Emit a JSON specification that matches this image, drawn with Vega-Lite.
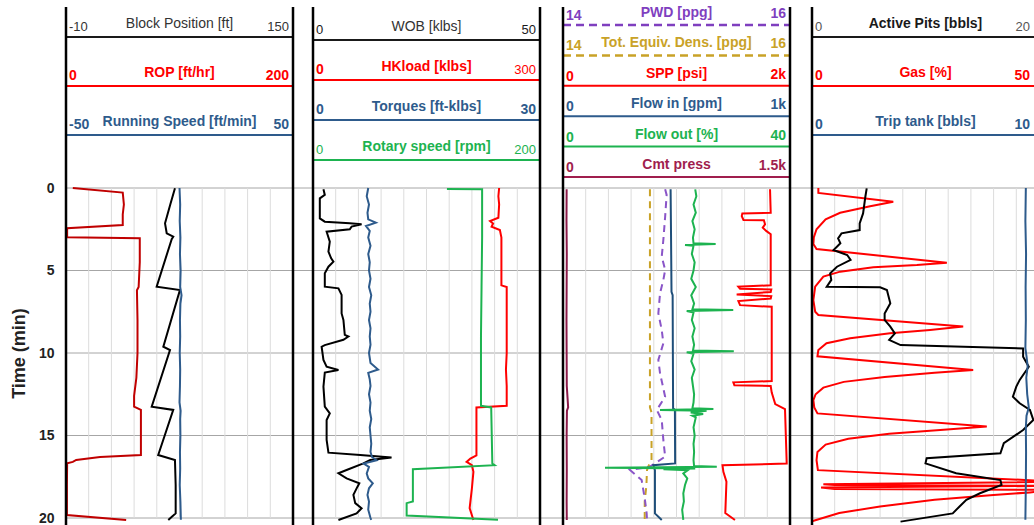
{
"$schema": "https://vega.github.io/schema/vega-lite/v6.json",
"width": 968, "height": 525,
"autosize": {"type": "none"},
"padding": {"left": 66, "top": 0, "right": 0, "bottom": 0},
"background": "white",
"config": {"view": {"stroke": null}, "font": "Liberation Sans"},
"datasets": {
"ticks": [{"t":0},{"t":5},{"t":10},{"t":15},{"t":20}],
"grid": [{"g":1},{"g":2},{"g":3},{"g":4},{"g":5},{"g":6},{"g":7},{"g":8},{"g":9}],
"edges": [{"e":0},{"e":1}],
"hdr": [
{"track":1,"ord":1,"name":"Block Position [ft]","lo":"-10","hi":"150"},
{"track":1,"ord":2,"name":"ROP [ft/hr]","lo":"0","hi":"200"},
{"track":1,"ord":3,"name":"Running Speed [ft/min]","lo":"-50","hi":"50"},
{"track":2,"ord":1,"name":"WOB [klbs]","lo":"0","hi":"50"},
{"track":2,"ord":2,"name":"HKload [klbs]","lo":"0","hi":"300"},
{"track":2,"ord":3,"name":"Torques [ft-klbs]","lo":"0","hi":"30"},
{"track":2,"ord":4,"name":"Rotary speed [rpm]","lo":"0","hi":"200"},
{"track":3,"ord":1,"name":"PWD [ppg]","lo":"14","hi":"16"},
{"track":3,"ord":2,"name":"Tot. Equiv. Dens. [ppg]","lo":"14","hi":"16"},
{"track":3,"ord":3,"name":"SPP [psi]","lo":"0","hi":"2k"},
{"track":3,"ord":4,"name":"Flow in [gpm]","lo":"0","hi":"1k"},
{"track":3,"ord":5,"name":"Flow out [%]","lo":"0","hi":"40"},
{"track":3,"ord":6,"name":"Cmt press","lo":"0","hi":"1.5k"},
{"track":4,"ord":1,"name":"Active Pits [bbls]","lo":"0","hi":"20"},
{"track":4,"ord":2,"name":"Gas [%]","lo":"0","hi":"50"},
{"track":4,"ord":3,"name":"Trip tank [bbls]","lo":"0","hi":"10"}
],
"rop": [{"t":0,"v":6},{"t":0.28,"v":50},{"t":1.0,"v":51},{"t":1.6,"v":50},{"t":2.24,"v":50},{"t":2.44,"v":1},{"t":2.99,"v":1},{"t":3.05,"v":65},{"t":4.5,"v":65},{"t":6.0,"v":64},{"t":6.2,"v":62.5},{"t":8,"v":63},{"t":10,"v":63},{"t":11.5,"v":62},{"t":12.6,"v":60},{"t":13.25,"v":60},{"t":13.45,"v":66},{"t":15,"v":66},{"t":16.18,"v":66},{"t":16.3,"v":30},{"t":16.48,"v":9},{"t":16.6,"v":6},{"t":16.69,"v":1},{"t":18,"v":0.8},{"t":19.82,"v":0.8},{"t":20.12,"v":53}],
"blk": [{"t":0.02,"v":66.8},{"t":1.0,"v":63.5},{"t":2.14,"v":59.8},{"t":2.5,"v":60.5},{"t":2.75,"v":61.0},{"t":2.95,"v":65.6},{"t":3.1,"v":64.5},{"t":5.98,"v":53.9},{"t":6.18,"v":70.3},{"t":9.62,"v":58.6},{"t":9.82,"v":63.3},{"t":13.25,"v":50.4},{"t":13.45,"v":65.6},{"t":16.18,"v":55.0},{"t":16.48,"v":66.8},{"t":18,"v":67.3},{"t":19.72,"v":67.3},{"t":19.9,"v":65},{"t":20.12,"v":62.1}],
"rsp": [{"t":0,"v":0.0},{"t":1,"v":0.3},{"t":2,"v":0.1},{"t":3,"v":0.4},{"t":4,"v":0.2},{"t":5,"v":0.5},{"t":6,"v":0.3},{"t":6.5,"v":0.9},{"t":7,"v":0.4},{"t":8,"v":0.2},{"t":9,"v":0.3},{"t":10,"v":0.1},{"t":11,"v":0.3},{"t":12,"v":0.2},{"t":13,"v":0.0},{"t":13.5,"v":0.5},{"t":14,"v":0.3},{"t":15,"v":0.4},{"t":16,"v":0.2},{"t":17,"v":0.3},{"t":18,"v":0.1},{"t":19,"v":0.4},{"t":20.1,"v":0.6}],
"wob": [{"t":0.08,"v":2.3},{"t":0.42,"v":2.6},{"t":0.63,"v":1.5},{"t":1.84,"v":1.5},{"t":2.04,"v":2.6},{"t":2.14,"v":8.1},{"t":2.2,"v":10.7},{"t":2.34,"v":8.5},{"t":2.5,"v":8.1},{"t":2.65,"v":3.0},{"t":3.25,"v":3.7},{"t":3.86,"v":3.4},{"t":4.26,"v":4.0},{"t":4.46,"v":4.5},{"t":4.77,"v":3.4},{"t":5.17,"v":2.6},{"t":5.98,"v":2.6},{"t":6.08,"v":5.6},{"t":6.48,"v":6.3},{"t":7.6,"v":6.3},{"t":8.0,"v":6.7},{"t":8.9,"v":7.0},{"t":9.0,"v":7.8},{"t":9.2,"v":6.7},{"t":9.52,"v":2.6},{"t":9.62,"v":1.9},{"t":10.42,"v":2.3},{"t":10.83,"v":3.0},{"t":11.03,"v":5.6},{"t":11.19,"v":2.6},{"t":12.04,"v":2.3},{"t":13.25,"v":2.6},{"t":13.66,"v":3.7},{"t":14.06,"v":3.0},{"t":15.27,"v":3.0},{"t":16.04,"v":3.4},{"t":16.18,"v":10.4},{"t":16.34,"v":17.3},{"t":16.48,"v":12.6},{"t":16.69,"v":11.1},{"t":17.09,"v":7.4},{"t":17.29,"v":5.6},{"t":17.6,"v":7.4},{"t":17.9,"v":10.2},{"t":18.1,"v":9.8},{"t":18.6,"v":8.9},{"t":19.1,"v":9.3},{"t":19.41,"v":10.7},{"t":19.72,"v":9.6},{"t":20.12,"v":5.6}],
"trq": [{"t":0,"v":7.3},{"t":0.5,"v":7.1},{"t":1,"v":7.4},{"t":1.5,"v":7.2},{"t":1.9,"v":7.3},{"t":2.1,"v":8.3},{"t":2.3,"v":7.0},{"t":2.6,"v":7.5},{"t":3,"v":7.3},{"t":3.5,"v":7.6},{"t":4,"v":7.3},{"t":4.5,"v":7.5},{"t":5,"v":7.4},{"t":5.5,"v":7.6},{"t":6,"v":7.4},{"t":6.5,"v":7.7},{"t":7,"v":7.5},{"t":7.5,"v":7.6},{"t":8,"v":7.4},{"t":8.5,"v":7.6},{"t":9,"v":7.5},{"t":9.5,"v":7.6},{"t":10,"v":7.4},{"t":10.6,"v":7.6},{"t":11.0,"v":8.6},{"t":11.2,"v":7.3},{"t":11.6,"v":7.5},{"t":12,"v":7.6},{"t":12.5,"v":7.4},{"t":13,"v":7.6},{"t":13.5,"v":7.5},{"t":14,"v":7.7},{"t":14.5,"v":7.5},{"t":15,"v":7.6},{"t":15.5,"v":7.7},{"t":16,"v":7.6},{"t":16.3,"v":7.8},{"t":16.5,"v":8.4},{"t":16.7,"v":6.7},{"t":16.9,"v":7.4},{"t":17.3,"v":7.1},{"t":17.6,"v":7.3},{"t":17.9,"v":7.9},{"t":18.2,"v":7.4},{"t":18.6,"v":7.2},{"t":19,"v":7.4},{"t":19.5,"v":7.3},{"t":20,"v":7.6},{"t":20.12,"v":7.7}],
"hkl": [{"t":0,"v":246},{"t":0.5,"v":245},{"t":1.0,"v":246},{"t":1.8,"v":245},{"t":2.0,"v":234},{"t":2.15,"v":238},{"t":2.35,"v":236},{"t":2.55,"v":247},{"t":3.0,"v":249},{"t":4,"v":249},{"t":5,"v":249},{"t":5.9,"v":249},{"t":6.0,"v":256},{"t":8,"v":256},{"t":10,"v":256},{"t":11,"v":255},{"t":12,"v":256},{"t":13.2,"v":256},{"t":13.3,"v":216},{"t":14,"v":216},{"t":15,"v":216},{"t":16.2,"v":216},{"t":16.4,"v":208},{"t":16.6,"v":203},{"t":16.8,"v":210},{"t":17.2,"v":212},{"t":18.2,"v":210},{"t":19.4,"v":207},{"t":20.12,"v":212}],
"rpm": [{"t":0.06,"v":118},{"t":0.08,"v":149},{"t":3,"v":149},{"t":6,"v":148.5},{"t":9,"v":148},{"t":13.2,"v":148},{"t":13.3,"v":157},{"t":16.7,"v":158},{"t":16.8,"v":160},{"t":17.05,"v":88},{"t":19.0,"v":88},{"t":19.1,"v":82.5},{"t":19.85,"v":82.5},{"t":20.1,"v":163}],
"pwd": [{"t":0.08,"v":14.9},{"t":0.42,"v":14.913},{"t":1.74,"v":14.9},{"t":3.15,"v":14.884},{"t":4.16,"v":14.87},{"t":4.97,"v":14.9},{"t":5.57,"v":14.884},{"t":6.38,"v":14.855},{"t":7.6,"v":14.84},{"t":8.6,"v":14.87},{"t":9.41,"v":14.884},{"t":10.42,"v":14.84},{"t":11.23,"v":14.855},{"t":12.65,"v":14.9},{"t":13.45,"v":14.826},{"t":14.06,"v":14.87},{"t":15.27,"v":14.884},{"t":16.28,"v":14.9},{"t":16.89,"v":14.767},{"t":17.09,"v":14.59},{"t":17.7,"v":14.693},{"t":18.9,"v":14.722},{"t":19.72,"v":14.737},{"t":20.1,"v":14.74}],
"ted": [{"t":0.08,"v":14.766},{"t":5,"v":14.766},{"t":10,"v":14.766},{"t":13.3,"v":14.766},{"t":13.6,"v":14.78},{"t":16.5,"v":14.78},{"t":16.9,"v":14.75},{"t":17.1,"v":14.74},{"t":18,"v":14.735},{"t":19,"v":14.72},{"t":20.1,"v":14.72}],
"spp": [{"t":0.08,"v":1824},{"t":1.5,"v":1830},{"t":1.54,"v":1580},{"t":1.7,"v":1575},{"t":1.94,"v":1590},{"t":1.96,"v":1770},{"t":2.2,"v":1780},{"t":2.4,"v":1760},{"t":2.6,"v":1790},{"t":2.8,"v":1830},{"t":5.9,"v":1830},{"t":5.98,"v":1545},{"t":6.1,"v":1560},{"t":6.15,"v":1835},{"t":6.3,"v":1830},{"t":6.45,"v":1530},{"t":6.55,"v":1835},{"t":6.7,"v":1830},{"t":6.85,"v":1545},{"t":7.1,"v":1560},{"t":7.2,"v":1839},{"t":11.7,"v":1839},{"t":11.78,"v":1501},{"t":11.95,"v":1510},{"t":12.0,"v":1830},{"t":12.4,"v":1839},{"t":13.1,"v":1870},{"t":13.4,"v":1956},{"t":16.7,"v":1971},{"t":16.8,"v":1405},{"t":17.2,"v":1413},{"t":17.8,"v":1440},{"t":19.7,"v":1430},{"t":20.12,"v":1515}],
"fin": [{"t":0.08,"v":474},{"t":3,"v":476},{"t":6.3,"v":478},{"t":6.5,"v":483},{"t":10,"v":484},{"t":13.35,"v":485},{"t":13.45,"v":493},{"t":16.69,"v":494},{"t":16.8,"v":398},{"t":17.1,"v":405},{"t":19.72,"v":405},{"t":20.12,"v":435}],
"fout": [{"t":0.08,"v":23.3},{"t":0.5,"v":23.5},{"t":1,"v":23.0},{"t":1.5,"v":23.4},{"t":2,"v":22.8},{"t":2.5,"v":23.2},{"t":3.0,"v":22.9},{"t":3.35,"v":23.0},{"t":3.4,"v":26.9},{"t":3.45,"v":21.5},{"t":3.5,"v":23.0},{"t":4,"v":22.7},{"t":4.5,"v":23.2},{"t":5,"v":23.0},{"t":5.5,"v":22.6},{"t":6,"v":23.4},{"t":6.5,"v":22.6},{"t":7,"v":23.1},{"t":7.35,"v":22.8},{"t":7.4,"v":30.0},{"t":7.45,"v":21.8},{"t":7.55,"v":23.0},{"t":8,"v":22.7},{"t":8.5,"v":23.2},{"t":9,"v":22.8},{"t":9.5,"v":23.1},{"t":9.85,"v":22.9},{"t":9.9,"v":30.1},{"t":9.95,"v":21.8},{"t":10.05,"v":23.0},{"t":10.5,"v":22.6},{"t":11,"v":23.2},{"t":11.5,"v":22.7},{"t":12,"v":22.9},{"t":12.5,"v":23.1},{"t":13,"v":23.0},{"t":13.35,"v":22.8},{"t":13.4,"v":26.5},{"t":13.45,"v":17.1},{"t":13.5,"v":25.3},{"t":13.6,"v":22.5},{"t":13.7,"v":24.7},{"t":13.8,"v":22.8},{"t":13.9,"v":23.4},{"t":14.5,"v":23.0},{"t":15,"v":23.2},{"t":15.5,"v":23.0},{"t":16,"v":23.1},{"t":16.5,"v":23.0},{"t":16.85,"v":23.1},{"t":16.9,"v":27.1},{"t":16.95,"v":7.4},{"t":17.0,"v":23.3},{"t":17.05,"v":17.7},{"t":17.1,"v":22.0},{"t":17.3,"v":21.2},{"t":17.6,"v":21.9},{"t":18,"v":21.5},{"t":18.5,"v":21.2},{"t":19,"v":21.3},{"t":19.5,"v":21.0},{"t":20.12,"v":21.2}],
"cmt": [{"t":0.08,"v":24},{"t":2,"v":23},{"t":4,"v":25},{"t":6,"v":24},{"t":8,"v":23},{"t":10,"v":24},{"t":12,"v":25},{"t":13.3,"v":34},{"t":13.5,"v":26},{"t":15,"v":24},{"t":17,"v":25},{"t":19,"v":24},{"t":20.12,"v":25}],
"pits": [{"t":0.02,"v":4.82},{"t":0.53,"v":4.7},{"t":1.54,"v":4.5},{"t":2.14,"v":4.2},{"t":2.55,"v":4.2},{"t":2.75,"v":2.6},{"t":3.05,"v":2.3},{"t":3.35,"v":2.5},{"t":3.76,"v":1.9},{"t":4.06,"v":3.1},{"t":4.36,"v":3.4},{"t":4.77,"v":2.2},{"t":5.17,"v":1.6},{"t":5.57,"v":1.7},{"t":5.98,"v":1.3},{"t":6.02,"v":6.0},{"t":6.18,"v":6.6},{"t":6.99,"v":6.9},{"t":7.6,"v":6.4},{"t":8.0,"v":6.4},{"t":8.4,"v":6.9},{"t":8.81,"v":7.3},{"t":9.21,"v":6.8},{"t":9.52,"v":7.8},{"t":9.72,"v":18.6},{"t":10.22,"v":18.6},{"t":10.83,"v":19.1},{"t":11.63,"v":18.3},{"t":12.04,"v":18.0},{"t":12.65,"v":17.7},{"t":13.05,"v":18.3},{"t":13.45,"v":19.2},{"t":14.06,"v":19.5},{"t":14.67,"v":18.6},{"t":15.47,"v":16.9},{"t":16.08,"v":16.6},{"t":16.38,"v":10.1},{"t":16.69,"v":10.0},{"t":17.29,"v":12.7},{"t":17.7,"v":16.6},{"t":18.0,"v":16.7},{"t":18.5,"v":14.8},{"t":18.9,"v":13.6},{"t":19.3,"v":13.0},{"t":19.72,"v":12.4},{"t":20.22,"v":7.8}],
"gas": [{"t":0,"v":1.4},{"t":0.3,"v":1.4},{"t":0.83,"v":17.9},{"t":1.1,"v":12.8},{"t":1.5,"v":6.2},{"t":1.9,"v":3.0},{"t":2.5,"v":1.0},{"t":3.0,"v":0.4},{"t":3.4,"v":0.3},{"t":3.7,"v":1.0},{"t":4.53,"v":29.7},{"t":4.67,"v":23.1},{"t":4.8,"v":13.5},{"t":5.07,"v":6.2},{"t":5.37,"v":2.5},{"t":5.98,"v":0.7},{"t":6.8,"v":0.3},{"t":7.5,"v":0.7},{"t":7.7,"v":1.4},{"t":8.4,"v":33.3},{"t":8.6,"v":26},{"t":8.81,"v":17.2},{"t":9.11,"v":8.4},{"t":9.41,"v":3.2},{"t":9.82,"v":1.4},{"t":10.2,"v":1.2},{"t":11.03,"v":35.5},{"t":11.2,"v":27},{"t":11.45,"v":16},{"t":11.75,"v":7},{"t":12.1,"v":2.5},{"t":12.5,"v":0.8},{"t":12.85,"v":0.3},{"t":13.3,"v":0.5},{"t":13.66,"v":1.2},{"t":14.46,"v":38.5},{"t":14.65,"v":29},{"t":14.9,"v":17},{"t":15.2,"v":8},{"t":15.55,"v":3},{"t":16.0,"v":1.2},{"t":16.5,"v":1.0},{"t":17.1,"v":1.3},{"t":17.8,"v":55},{"t":17.95,"v":2.5},{"t":18.0,"v":5},{"t":18.05,"v":55},{"t":18.15,"v":2},{"t":18.25,"v":5},{"t":18.3,"v":55},{"t":18.45,"v":48},{"t":18.6,"v":40},{"t":18.9,"v":27},{"t":19.3,"v":15},{"t":19.7,"v":6},{"t":20.2,"v":0}],
"trip": [{"t":0,"v":9.42},{"t":2,"v":9.4},{"t":4,"v":9.43},{"t":6,"v":9.41},{"t":8,"v":9.42},{"t":9.7,"v":9.4},{"t":10.2,"v":9.45},{"t":10.8,"v":9.5},{"t":11.5,"v":9.44},{"t":12.5,"v":9.48},{"t":13.3,"v":9.55},{"t":13.8,"v":9.45},{"t":14.5,"v":9.42},{"t":16,"v":9.43},{"t":18,"v":9.42},{"t":20.1,"v":9.4}]
},
"resolve": {"scale": {"x": "independent", "y": "independent"}, "axis": {"x": "independent", "y": "independent"}},
"layer": [
{"data":{"name":"ticks"},"mark":{"type":"rule","color":"#a6a6a6","strokeWidth":1},"encoding":{"y":{"field":"t","type":"quantitative","scale":{"domain":[0,20],"range":[188,518],"nice":false,"zero":false},"axis":null}}},
{"data":{"name":"grid"},"mark":{"type":"rule","color":"#dcdcdc","strokeWidth":1},"encoding":{"x":{"field":"g","type":"quantitative","scale":{"domain":[0,10],"range":[0,227],"nice":false,"zero":false},"axis":null},"y":{"datum":0,"type":"quantitative","scale":{"domain":[0,20],"range":[188,518],"nice":false,"zero":false},"axis":null},"y2":{"datum":20}}},
{"data":{"name":"grid"},"mark":{"type":"rule","color":"#dcdcdc","strokeWidth":1},"encoding":{"x":{"field":"g","type":"quantitative","scale":{"domain":[0,10],"range":[247,474],"nice":false,"zero":false},"axis":null},"y":{"datum":0,"type":"quantitative","scale":{"domain":[0,20],"range":[188,518],"nice":false,"zero":false},"axis":null},"y2":{"datum":20}}},
{"data":{"name":"grid"},"mark":{"type":"rule","color":"#dcdcdc","strokeWidth":1},"encoding":{"x":{"field":"g","type":"quantitative","scale":{"domain":[0,10],"range":[497,724],"nice":false,"zero":false},"axis":null},"y":{"datum":0,"type":"quantitative","scale":{"domain":[0,20],"range":[188,518],"nice":false,"zero":false},"axis":null},"y2":{"datum":20}}},
{"data":{"name":"grid"},"mark":{"type":"rule","color":"#dcdcdc","strokeWidth":1},"encoding":{"x":{"field":"g","type":"quantitative","scale":{"domain":[0,10],"range":[746,973],"nice":false,"zero":false},"axis":null},"y":{"datum":0,"type":"quantitative","scale":{"domain":[0,20],"range":[188,518],"nice":false,"zero":false},"axis":null},"y2":{"datum":20}}},

{"data":{"name":"rop"},"mark":{"type":"line","color":"#c00000","strokeWidth":2},"encoding":{"x":{"field":"v","type":"quantitative","scale":{"domain":[0,200],"range":[0,227],"nice":false,"zero":false},"axis":null},"y":{"field":"t","type":"quantitative","scale":{"domain":[0,20],"range":[188,518],"nice":false,"zero":false},"axis":{"title":"Time (min)","values":[0,5,10,15,20],"grid":false,"domain":false,"ticks":false,"labelPadding":12,"labelFlush":false,"labelOverlap":false,"labelFont":"Liberation Sans","labelFontSize":14,"labelFontWeight":"bold","labelColor":"#222222","titleFont":"Liberation Sans","titleFontSize":18,"titleFontWeight":"bold","titleColor":"#222222","titlePadding":10}},"order":{"field":"t","type":"quantitative"}}},
{"data":{"name":"blk"},"mark":{"type":"line","color":"#000000","strokeWidth":2},"encoding":{"x":{"field":"v","type":"quantitative","scale":{"domain":[-10,150],"range":[0,227],"nice":false,"zero":false},"axis":null},"y":{"field":"t","type":"quantitative","scale":{"domain":[0,20],"range":[188,518],"nice":false,"zero":false},"axis":null},"order":{"field":"t","type":"quantitative"}}},
{"data":{"name":"rsp"},"mark":{"type":"line","color":"#2e5b8c","strokeWidth":2},"encoding":{"x":{"field":"v","type":"quantitative","scale":{"domain":[-50,50],"range":[0,227],"nice":false,"zero":false},"axis":null},"y":{"field":"t","type":"quantitative","scale":{"domain":[0,20],"range":[188,518],"nice":false,"zero":false},"axis":null},"order":{"field":"t","type":"quantitative"}}},

{"data":{"name":"wob"},"mark":{"type":"line","color":"#000000","strokeWidth":2},"encoding":{"x":{"field":"v","type":"quantitative","scale":{"domain":[0,50],"range":[247,474],"nice":false,"zero":false},"axis":null},"y":{"field":"t","type":"quantitative","scale":{"domain":[0,20],"range":[188,518],"nice":false,"zero":false},"axis":null},"order":{"field":"t","type":"quantitative"}}},
{"data":{"name":"hkl"},"mark":{"type":"line","color":"#ff0000","strokeWidth":2},"encoding":{"x":{"field":"v","type":"quantitative","scale":{"domain":[0,300],"range":[247,474],"nice":false,"zero":false},"axis":null},"y":{"field":"t","type":"quantitative","scale":{"domain":[0,20],"range":[188,518],"nice":false,"zero":false},"axis":null},"order":{"field":"t","type":"quantitative"}}},
{"data":{"name":"trq"},"mark":{"type":"line","color":"#2e5b8c","strokeWidth":2},"encoding":{"x":{"field":"v","type":"quantitative","scale":{"domain":[0,30],"range":[247,474],"nice":false,"zero":false},"axis":null},"y":{"field":"t","type":"quantitative","scale":{"domain":[0,20],"range":[188,518],"nice":false,"zero":false},"axis":null},"order":{"field":"t","type":"quantitative"}}},
{"data":{"name":"rpm"},"mark":{"type":"line","color":"#1db350","strokeWidth":2},"encoding":{"x":{"field":"v","type":"quantitative","scale":{"domain":[0,200],"range":[247,474],"nice":false,"zero":false},"axis":null},"y":{"field":"t","type":"quantitative","scale":{"domain":[0,20],"range":[188,518],"nice":false,"zero":false},"axis":null},"order":{"field":"t","type":"quantitative"}}},

{"data":{"name":"cmt"},"mark":{"type":"line","color":"#8b1a48","strokeWidth":2},"encoding":{"x":{"field":"v","type":"quantitative","scale":{"domain":[0,1500],"range":[497,724],"nice":false,"zero":false},"axis":null},"y":{"field":"t","type":"quantitative","scale":{"domain":[0,20],"range":[188,518],"nice":false,"zero":false},"axis":null},"order":{"field":"t","type":"quantitative"}}},
{"data":{"name":"ted"},"mark":{"type":"line","color":"#c9a227","strokeWidth":2,"strokeDash":[7,5]},"encoding":{"x":{"field":"v","type":"quantitative","scale":{"domain":[14,16],"range":[497,724],"nice":false,"zero":false},"axis":null},"y":{"field":"t","type":"quantitative","scale":{"domain":[0,20],"range":[188,518],"nice":false,"zero":false},"axis":null},"order":{"field":"t","type":"quantitative"}}},
{"data":{"name":"pwd"},"mark":{"type":"line","color":"#8a55c8","strokeWidth":2,"strokeDash":[7,5]},"encoding":{"x":{"field":"v","type":"quantitative","scale":{"domain":[14,16],"range":[497,724],"nice":false,"zero":false},"axis":null},"y":{"field":"t","type":"quantitative","scale":{"domain":[0,20],"range":[188,518],"nice":false,"zero":false},"axis":null},"order":{"field":"t","type":"quantitative"}}},
{"data":{"name":"fin"},"mark":{"type":"line","color":"#1f4e79","strokeWidth":2},"encoding":{"x":{"field":"v","type":"quantitative","scale":{"domain":[0,1000],"range":[497,724],"nice":false,"zero":false},"axis":null},"y":{"field":"t","type":"quantitative","scale":{"domain":[0,20],"range":[188,518],"nice":false,"zero":false},"axis":null},"order":{"field":"t","type":"quantitative"}}},
{"data":{"name":"fout"},"mark":{"type":"line","color":"#1db350","strokeWidth":2},"encoding":{"x":{"field":"v","type":"quantitative","scale":{"domain":[0,40],"range":[497,724],"nice":false,"zero":false},"axis":null},"y":{"field":"t","type":"quantitative","scale":{"domain":[0,20],"range":[188,518],"nice":false,"zero":false},"axis":null},"order":{"field":"t","type":"quantitative"}}},
{"data":{"name":"spp"},"mark":{"type":"line","color":"#ff0000","strokeWidth":2},"encoding":{"x":{"field":"v","type":"quantitative","scale":{"domain":[0,2000],"range":[497,724],"nice":false,"zero":false},"axis":null},"y":{"field":"t","type":"quantitative","scale":{"domain":[0,20],"range":[188,518],"nice":false,"zero":false},"axis":null},"order":{"field":"t","type":"quantitative"}}},

{"data":{"name":"gas"},"mark":{"type":"line","color":"#ff0000","strokeWidth":2},"encoding":{"x":{"field":"v","type":"quantitative","scale":{"domain":[0,50],"range":[746,973],"nice":false,"zero":false},"axis":null},"y":{"field":"t","type":"quantitative","scale":{"domain":[0,20],"range":[188,518],"nice":false,"zero":false},"axis":null},"order":{"field":"t","type":"quantitative"}}},
{"data":{"name":"pits"},"mark":{"type":"line","color":"#000000","strokeWidth":2},"encoding":{"x":{"field":"v","type":"quantitative","scale":{"domain":[0,20],"range":[746,973],"nice":false,"zero":false},"axis":null},"y":{"field":"t","type":"quantitative","scale":{"domain":[0,20],"range":[188,518],"nice":false,"zero":false},"axis":null},"order":{"field":"t","type":"quantitative"}}},
{"data":{"name":"trip"},"mark":{"type":"line","color":"#2e5b8c","strokeWidth":2},"encoding":{"x":{"field":"v","type":"quantitative","scale":{"domain":[0,10],"range":[746,973],"nice":false,"zero":false},"axis":null},"y":{"field":"t","type":"quantitative","scale":{"domain":[0,20],"range":[188,518],"nice":false,"zero":false},"axis":null},"order":{"field":"t","type":"quantitative"}}},

{"data":{"name":"hdr"},"transform":[{"filter":"datum.track==1"}],"mark":{"type":"rule","strokeWidth":2},"encoding":{"x":{"datum":0,"type":"quantitative","scale":{"domain":[0,1],"range":[0,227],"nice":false,"zero":false},"axis":null},"x2":{"datum":1},"y":{"field":"ord","type":"quantitative","scale":{"domain":[1,3],"range":[37,135],"nice":false,"zero":false},"axis":null},"color":{"field":"name","type":"nominal","legend":null,"scale":{"domain":["Block Position [ft]","ROP [ft/hr]","Running Speed [ft/min]","WOB [klbs]","HKload [klbs]","Torques [ft-klbs]","Rotary speed [rpm]","PWD [ppg]","Tot. Equiv. Dens. [ppg]","SPP [psi]","Flow in [gpm]","Flow out [%]","Cmt press","Active Pits [bbls]","Gas [%]","Trip tank [bbls]"],"range":["#1a1a1a","#ff0000","#2e5b8c","#1a1a1a","#ff0000","#2e5b8c","#1db350","#7f3fbf","#c9a227","#ff0000","#2e5b8c","#1db350","#a01e4e","#1a1a1a","#ff0000","#2e5b8c"]}}}},
{"data":{"name":"hdr"},"transform":[{"filter":"datum.track==1 && datum.name!='Block Position [ft]'"}],"mark":{"type":"text","font":"Liberation Sans","fontSize":14,"fontWeight":"bold","align":"center","baseline":"alphabetic","dy":-9},"encoding":{"x":{"datum":0.5,"type":"quantitative","scale":{"domain":[0,1],"range":[0,227],"nice":false,"zero":false},"axis":null},"y":{"field":"ord","type":"quantitative","scale":{"domain":[1,3],"range":[37,135],"nice":false,"zero":false},"axis":null},"text":{"field":"name"},"color":{"field":"name","type":"nominal","legend":null,"scale":{"domain":["Block Position [ft]","ROP [ft/hr]","Running Speed [ft/min]","WOB [klbs]","HKload [klbs]","Torques [ft-klbs]","Rotary speed [rpm]","PWD [ppg]","Tot. Equiv. Dens. [ppg]","SPP [psi]","Flow in [gpm]","Flow out [%]","Cmt press","Active Pits [bbls]","Gas [%]","Trip tank [bbls]"],"range":["#1a1a1a","#ff0000","#2e5b8c","#1a1a1a","#ff0000","#2e5b8c","#1db350","#7f3fbf","#c9a227","#ff0000","#2e5b8c","#1db350","#a01e4e","#1a1a1a","#ff0000","#2e5b8c"]}}}},
{"data":{"name":"hdr"},"transform":[{"filter":"datum.track==1 && datum.name=='Block Position [ft]'"}],"mark":{"type":"text","font":"Liberation Sans","fontSize":14,"fontWeight":"normal","align":"center","baseline":"alphabetic","dy":-9,"color":"#333333"},"encoding":{"x":{"datum":0.5,"type":"quantitative","scale":{"domain":[0,1],"range":[0,227],"nice":false,"zero":false},"axis":null},"y":{"field":"ord","type":"quantitative","scale":{"domain":[1,3],"range":[37,135],"nice":false,"zero":false},"axis":null},"text":{"field":"name"}}},
{"data":{"name":"hdr"},"transform":[{"filter":"datum.track==1 && datum.name!='Block Position [ft]'"}],"mark":{"type":"text","font":"Liberation Sans","fontSize":14,"fontWeight":"bold","align":"left","baseline":"alphabetic","dx":3,"dy":-6},"encoding":{"x":{"datum":0,"type":"quantitative","scale":{"domain":[0,1],"range":[0,227],"nice":false,"zero":false},"axis":null},"y":{"field":"ord","type":"quantitative","scale":{"domain":[1,3],"range":[37,135],"nice":false,"zero":false},"axis":null},"text":{"field":"lo"},"color":{"field":"name","type":"nominal","legend":null,"scale":{"domain":["Block Position [ft]","ROP [ft/hr]","Running Speed [ft/min]","WOB [klbs]","HKload [klbs]","Torques [ft-klbs]","Rotary speed [rpm]","PWD [ppg]","Tot. Equiv. Dens. [ppg]","SPP [psi]","Flow in [gpm]","Flow out [%]","Cmt press","Active Pits [bbls]","Gas [%]","Trip tank [bbls]"],"range":["#1a1a1a","#ff0000","#2e5b8c","#1a1a1a","#ff0000","#2e5b8c","#1db350","#7f3fbf","#c9a227","#ff0000","#2e5b8c","#1db350","#a01e4e","#1a1a1a","#ff0000","#2e5b8c"]}}}},
{"data":{"name":"hdr"},"transform":[{"filter":"datum.track==1 && datum.name=='Block Position [ft]'"}],"mark":{"type":"text","font":"Liberation Sans","fontSize":13,"fontWeight":"normal","align":"left","baseline":"alphabetic","dx":3,"dy":-6,"color":"#333333"},"encoding":{"x":{"datum":0,"type":"quantitative","scale":{"domain":[0,1],"range":[0,227],"nice":false,"zero":false},"axis":null},"y":{"field":"ord","type":"quantitative","scale":{"domain":[1,3],"range":[37,135],"nice":false,"zero":false},"axis":null},"text":{"field":"lo"}}},
{"data":{"name":"hdr"},"transform":[{"filter":"datum.track==1 && datum.name!='Block Position [ft]'"}],"mark":{"type":"text","font":"Liberation Sans","fontSize":14,"fontWeight":"bold","align":"right","baseline":"alphabetic","dx":-4,"dy":-6},"encoding":{"x":{"datum":1,"type":"quantitative","scale":{"domain":[0,1],"range":[0,227],"nice":false,"zero":false},"axis":null},"y":{"field":"ord","type":"quantitative","scale":{"domain":[1,3],"range":[37,135],"nice":false,"zero":false},"axis":null},"text":{"field":"hi"},"color":{"field":"name","type":"nominal","legend":null,"scale":{"domain":["Block Position [ft]","ROP [ft/hr]","Running Speed [ft/min]","WOB [klbs]","HKload [klbs]","Torques [ft-klbs]","Rotary speed [rpm]","PWD [ppg]","Tot. Equiv. Dens. [ppg]","SPP [psi]","Flow in [gpm]","Flow out [%]","Cmt press","Active Pits [bbls]","Gas [%]","Trip tank [bbls]"],"range":["#1a1a1a","#ff0000","#2e5b8c","#1a1a1a","#ff0000","#2e5b8c","#1db350","#7f3fbf","#c9a227","#ff0000","#2e5b8c","#1db350","#a01e4e","#1a1a1a","#ff0000","#2e5b8c"]}}}},
{"data":{"name":"hdr"},"transform":[{"filter":"datum.track==1 && datum.name=='Block Position [ft]'"}],"mark":{"type":"text","font":"Liberation Sans","fontSize":13,"fontWeight":"normal","align":"right","baseline":"alphabetic","dx":-4,"dy":-6,"color":"#333333"},"encoding":{"x":{"datum":1,"type":"quantitative","scale":{"domain":[0,1],"range":[0,227],"nice":false,"zero":false},"axis":null},"y":{"field":"ord","type":"quantitative","scale":{"domain":[1,3],"range":[37,135],"nice":false,"zero":false},"axis":null},"text":{"field":"hi"}}},

{"data":{"name":"hdr"},"transform":[{"filter":"datum.track==2"}],"mark":{"type":"rule","strokeWidth":2},"encoding":{"x":{"datum":0,"type":"quantitative","scale":{"domain":[0,1],"range":[247,474],"nice":false,"zero":false},"axis":null},"x2":{"datum":1},"y":{"field":"ord","type":"quantitative","scale":{"domain":[1,4],"range":[40,160],"nice":false,"zero":false},"axis":null},"color":{"field":"name","type":"nominal","legend":null,"scale":{"domain":["Block Position [ft]","ROP [ft/hr]","Running Speed [ft/min]","WOB [klbs]","HKload [klbs]","Torques [ft-klbs]","Rotary speed [rpm]","PWD [ppg]","Tot. Equiv. Dens. [ppg]","SPP [psi]","Flow in [gpm]","Flow out [%]","Cmt press","Active Pits [bbls]","Gas [%]","Trip tank [bbls]"],"range":["#1a1a1a","#ff0000","#2e5b8c","#1a1a1a","#ff0000","#2e5b8c","#1db350","#7f3fbf","#c9a227","#ff0000","#2e5b8c","#1db350","#a01e4e","#1a1a1a","#ff0000","#2e5b8c"]}}}},
{"data":{"name":"hdr"},"transform":[{"filter":"datum.track==2 && datum.name!='WOB [klbs]'"}],"mark":{"type":"text","font":"Liberation Sans","fontSize":14,"fontWeight":"bold","align":"center","baseline":"alphabetic","dy":-9},"encoding":{"x":{"datum":0.5,"type":"quantitative","scale":{"domain":[0,1],"range":[247,474],"nice":false,"zero":false},"axis":null},"y":{"field":"ord","type":"quantitative","scale":{"domain":[1,4],"range":[40,160],"nice":false,"zero":false},"axis":null},"text":{"field":"name"},"color":{"field":"name","type":"nominal","legend":null,"scale":{"domain":["Block Position [ft]","ROP [ft/hr]","Running Speed [ft/min]","WOB [klbs]","HKload [klbs]","Torques [ft-klbs]","Rotary speed [rpm]","PWD [ppg]","Tot. Equiv. Dens. [ppg]","SPP [psi]","Flow in [gpm]","Flow out [%]","Cmt press","Active Pits [bbls]","Gas [%]","Trip tank [bbls]"],"range":["#1a1a1a","#ff0000","#2e5b8c","#1a1a1a","#ff0000","#2e5b8c","#1db350","#7f3fbf","#c9a227","#ff0000","#2e5b8c","#1db350","#a01e4e","#1a1a1a","#ff0000","#2e5b8c"]}}}},
{"data":{"name":"hdr"},"transform":[{"filter":"datum.track==2 && datum.name=='WOB [klbs]'"}],"mark":{"type":"text","font":"Liberation Sans","fontSize":14,"fontWeight":"normal","align":"center","baseline":"alphabetic","dy":-9,"color":"#333333"},"encoding":{"x":{"datum":0.5,"type":"quantitative","scale":{"domain":[0,1],"range":[247,474],"nice":false,"zero":false},"axis":null},"y":{"field":"ord","type":"quantitative","scale":{"domain":[1,4],"range":[40,160],"nice":false,"zero":false},"axis":null},"text":{"field":"name"}}},
{"data":{"name":"hdr"},"transform":[{"filter":"datum.track==2 && datum.name!='WOB [klbs]' && datum.name!='Rotary speed [rpm]'"}],"mark":{"type":"text","font":"Liberation Sans","fontSize":14,"fontWeight":"bold","align":"left","baseline":"alphabetic","dx":3,"dy":-6},"encoding":{"x":{"datum":0,"type":"quantitative","scale":{"domain":[0,1],"range":[247,474],"nice":false,"zero":false},"axis":null},"y":{"field":"ord","type":"quantitative","scale":{"domain":[1,4],"range":[40,160],"nice":false,"zero":false},"axis":null},"text":{"field":"lo"},"color":{"field":"name","type":"nominal","legend":null,"scale":{"domain":["Block Position [ft]","ROP [ft/hr]","Running Speed [ft/min]","WOB [klbs]","HKload [klbs]","Torques [ft-klbs]","Rotary speed [rpm]","PWD [ppg]","Tot. Equiv. Dens. [ppg]","SPP [psi]","Flow in [gpm]","Flow out [%]","Cmt press","Active Pits [bbls]","Gas [%]","Trip tank [bbls]"],"range":["#1a1a1a","#ff0000","#2e5b8c","#1a1a1a","#ff0000","#2e5b8c","#1db350","#7f3fbf","#c9a227","#ff0000","#2e5b8c","#1db350","#a01e4e","#1a1a1a","#ff0000","#2e5b8c"]}}}},
{"data":{"name":"hdr"},"transform":[{"filter":"datum.track==2 && (datum.name=='WOB [klbs]' || datum.name=='Rotary speed [rpm]')"}],"mark":{"type":"text","font":"Liberation Sans","fontSize":13,"fontWeight":"normal","align":"left","baseline":"alphabetic","dx":3,"dy":-6},"encoding":{"x":{"datum":0,"type":"quantitative","scale":{"domain":[0,1],"range":[247,474],"nice":false,"zero":false},"axis":null},"y":{"field":"ord","type":"quantitative","scale":{"domain":[1,4],"range":[40,160],"nice":false,"zero":false},"axis":null},"text":{"field":"lo"},"color":{"field":"name","type":"nominal","legend":null,"scale":{"domain":["Block Position [ft]","ROP [ft/hr]","Running Speed [ft/min]","WOB [klbs]","HKload [klbs]","Torques [ft-klbs]","Rotary speed [rpm]","PWD [ppg]","Tot. Equiv. Dens. [ppg]","SPP [psi]","Flow in [gpm]","Flow out [%]","Cmt press","Active Pits [bbls]","Gas [%]","Trip tank [bbls]"],"range":["#1a1a1a","#ff0000","#2e5b8c","#1a1a1a","#ff0000","#2e5b8c","#1db350","#7f3fbf","#c9a227","#ff0000","#2e5b8c","#1db350","#a01e4e","#1a1a1a","#ff0000","#2e5b8c"]}}}},
{"data":{"name":"hdr"},"transform":[{"filter":"datum.track==2 && datum.name!='WOB [klbs]' && datum.name!='Rotary speed [rpm]' && datum.name!='HKload [klbs]'"}],"mark":{"type":"text","font":"Liberation Sans","fontSize":14,"fontWeight":"bold","align":"right","baseline":"alphabetic","dx":-4,"dy":-6},"encoding":{"x":{"datum":1,"type":"quantitative","scale":{"domain":[0,1],"range":[247,474],"nice":false,"zero":false},"axis":null},"y":{"field":"ord","type":"quantitative","scale":{"domain":[1,4],"range":[40,160],"nice":false,"zero":false},"axis":null},"text":{"field":"hi"},"color":{"field":"name","type":"nominal","legend":null,"scale":{"domain":["Block Position [ft]","ROP [ft/hr]","Running Speed [ft/min]","WOB [klbs]","HKload [klbs]","Torques [ft-klbs]","Rotary speed [rpm]","PWD [ppg]","Tot. Equiv. Dens. [ppg]","SPP [psi]","Flow in [gpm]","Flow out [%]","Cmt press","Active Pits [bbls]","Gas [%]","Trip tank [bbls]"],"range":["#1a1a1a","#ff0000","#2e5b8c","#1a1a1a","#ff0000","#2e5b8c","#1db350","#7f3fbf","#c9a227","#ff0000","#2e5b8c","#1db350","#a01e4e","#1a1a1a","#ff0000","#2e5b8c"]}}}},
{"data":{"name":"hdr"},"transform":[{"filter":"datum.track==2 && (datum.name=='WOB [klbs]' || datum.name=='Rotary speed [rpm]' || datum.name=='HKload [klbs]')"}],"mark":{"type":"text","font":"Liberation Sans","fontSize":13,"fontWeight":"normal","align":"right","baseline":"alphabetic","dx":-4,"dy":-6},"encoding":{"x":{"datum":1,"type":"quantitative","scale":{"domain":[0,1],"range":[247,474],"nice":false,"zero":false},"axis":null},"y":{"field":"ord","type":"quantitative","scale":{"domain":[1,4],"range":[40,160],"nice":false,"zero":false},"axis":null},"text":{"field":"hi"},"color":{"field":"name","type":"nominal","legend":null,"scale":{"domain":["Block Position [ft]","ROP [ft/hr]","Running Speed [ft/min]","WOB [klbs]","HKload [klbs]","Torques [ft-klbs]","Rotary speed [rpm]","PWD [ppg]","Tot. Equiv. Dens. [ppg]","SPP [psi]","Flow in [gpm]","Flow out [%]","Cmt press","Active Pits [bbls]","Gas [%]","Trip tank [bbls]"],"range":["#1a1a1a","#ff0000","#2e5b8c","#1a1a1a","#ff0000","#2e5b8c","#1db350","#7f3fbf","#c9a227","#ff0000","#2e5b8c","#1db350","#a01e4e","#1a1a1a","#ff0000","#2e5b8c"]}}}},

{"data":{"name":"hdr"},"transform":[{"filter":"datum.track==3 && datum.ord>=3"}],"mark":{"type":"rule","strokeWidth":2},"encoding":{"x":{"datum":0,"type":"quantitative","scale":{"domain":[0,1],"range":[497,724],"nice":false,"zero":false},"axis":null},"x2":{"datum":1},"y":{"field":"ord","type":"quantitative","scale":{"domain":[1,6],"range":[25,177],"nice":false,"zero":false},"axis":null},"color":{"field":"name","type":"nominal","legend":null,"scale":{"domain":["Block Position [ft]","ROP [ft/hr]","Running Speed [ft/min]","WOB [klbs]","HKload [klbs]","Torques [ft-klbs]","Rotary speed [rpm]","PWD [ppg]","Tot. Equiv. Dens. [ppg]","SPP [psi]","Flow in [gpm]","Flow out [%]","Cmt press","Active Pits [bbls]","Gas [%]","Trip tank [bbls]"],"range":["#1a1a1a","#ff0000","#2e5b8c","#1a1a1a","#ff0000","#2e5b8c","#1db350","#7f3fbf","#c9a227","#ff0000","#2e5b8c","#1db350","#a01e4e","#1a1a1a","#ff0000","#2e5b8c"]}}}},
{"data":{"name":"hdr"},"transform":[{"filter":"datum.track==3 && datum.ord<=2"}],"mark":{"type":"rule","strokeWidth":2.5,"strokeDash":[8,5]},"encoding":{"x":{"datum":0,"type":"quantitative","scale":{"domain":[0,1],"range":[497,724],"nice":false,"zero":false},"axis":null},"x2":{"datum":1},"y":{"field":"ord","type":"quantitative","scale":{"domain":[1,6],"range":[25,177],"nice":false,"zero":false},"axis":null},"color":{"field":"name","type":"nominal","legend":null,"scale":{"domain":["Block Position [ft]","ROP [ft/hr]","Running Speed [ft/min]","WOB [klbs]","HKload [klbs]","Torques [ft-klbs]","Rotary speed [rpm]","PWD [ppg]","Tot. Equiv. Dens. [ppg]","SPP [psi]","Flow in [gpm]","Flow out [%]","Cmt press","Active Pits [bbls]","Gas [%]","Trip tank [bbls]"],"range":["#1a1a1a","#ff0000","#2e5b8c","#1a1a1a","#ff0000","#2e5b8c","#1db350","#7f3fbf","#c9a227","#ff0000","#2e5b8c","#1db350","#a01e4e","#1a1a1a","#ff0000","#2e5b8c"]}}}},
{"data":{"name":"hdr"},"transform":[{"filter":"datum.track==3"}],"mark":{"type":"text","font":"Liberation Sans","fontSize":14,"fontWeight":"bold","align":"center","baseline":"alphabetic","dy":-8},"encoding":{"x":{"datum":0.5,"type":"quantitative","scale":{"domain":[0,1],"range":[497,724],"nice":false,"zero":false},"axis":null},"y":{"field":"ord","type":"quantitative","scale":{"domain":[1,6],"range":[25,177],"nice":false,"zero":false},"axis":null},"text":{"field":"name"},"color":{"field":"name","type":"nominal","legend":null,"scale":{"domain":["Block Position [ft]","ROP [ft/hr]","Running Speed [ft/min]","WOB [klbs]","HKload [klbs]","Torques [ft-klbs]","Rotary speed [rpm]","PWD [ppg]","Tot. Equiv. Dens. [ppg]","SPP [psi]","Flow in [gpm]","Flow out [%]","Cmt press","Active Pits [bbls]","Gas [%]","Trip tank [bbls]"],"range":["#1a1a1a","#ff0000","#2e5b8c","#1a1a1a","#ff0000","#2e5b8c","#1db350","#7f3fbf","#c9a227","#ff0000","#2e5b8c","#1db350","#a01e4e","#1a1a1a","#ff0000","#2e5b8c"]}}}},
{"data":{"name":"hdr"},"transform":[{"filter":"datum.track==3"}],"mark":{"type":"text","font":"Liberation Sans","fontSize":14,"fontWeight":"bold","align":"left","baseline":"alphabetic","dx":3,"dy":-5},"encoding":{"x":{"datum":0,"type":"quantitative","scale":{"domain":[0,1],"range":[497,724],"nice":false,"zero":false},"axis":null},"y":{"field":"ord","type":"quantitative","scale":{"domain":[1,6],"range":[25,177],"nice":false,"zero":false},"axis":null},"text":{"field":"lo"},"color":{"field":"name","type":"nominal","legend":null,"scale":{"domain":["Block Position [ft]","ROP [ft/hr]","Running Speed [ft/min]","WOB [klbs]","HKload [klbs]","Torques [ft-klbs]","Rotary speed [rpm]","PWD [ppg]","Tot. Equiv. Dens. [ppg]","SPP [psi]","Flow in [gpm]","Flow out [%]","Cmt press","Active Pits [bbls]","Gas [%]","Trip tank [bbls]"],"range":["#1a1a1a","#ff0000","#2e5b8c","#1a1a1a","#ff0000","#2e5b8c","#1db350","#7f3fbf","#c9a227","#ff0000","#2e5b8c","#1db350","#a01e4e","#1a1a1a","#ff0000","#2e5b8c"]}}}},
{"data":{"name":"hdr"},"transform":[{"filter":"datum.track==3"}],"mark":{"type":"text","font":"Liberation Sans","fontSize":14,"fontWeight":"bold","align":"right","baseline":"alphabetic","dx":-4,"dy":-7},"encoding":{"x":{"datum":1,"type":"quantitative","scale":{"domain":[0,1],"range":[497,724],"nice":false,"zero":false},"axis":null},"y":{"field":"ord","type":"quantitative","scale":{"domain":[1,6],"range":[25,177],"nice":false,"zero":false},"axis":null},"text":{"field":"hi"},"color":{"field":"name","type":"nominal","legend":null,"scale":{"domain":["Block Position [ft]","ROP [ft/hr]","Running Speed [ft/min]","WOB [klbs]","HKload [klbs]","Torques [ft-klbs]","Rotary speed [rpm]","PWD [ppg]","Tot. Equiv. Dens. [ppg]","SPP [psi]","Flow in [gpm]","Flow out [%]","Cmt press","Active Pits [bbls]","Gas [%]","Trip tank [bbls]"],"range":["#1a1a1a","#ff0000","#2e5b8c","#1a1a1a","#ff0000","#2e5b8c","#1db350","#7f3fbf","#c9a227","#ff0000","#2e5b8c","#1db350","#a01e4e","#1a1a1a","#ff0000","#2e5b8c"]}}}},

{"data":{"name":"hdr"},"transform":[{"filter":"datum.track==4"}],"mark":{"type":"rule","strokeWidth":2},"encoding":{"x":{"datum":0,"type":"quantitative","scale":{"domain":[0,1],"range":[746,973],"nice":false,"zero":false},"axis":null},"x2":{"datum":1},"y":{"field":"ord","type":"quantitative","scale":{"domain":[1,3],"range":[37,135],"nice":false,"zero":false},"axis":null},"color":{"field":"name","type":"nominal","legend":null,"scale":{"domain":["Block Position [ft]","ROP [ft/hr]","Running Speed [ft/min]","WOB [klbs]","HKload [klbs]","Torques [ft-klbs]","Rotary speed [rpm]","PWD [ppg]","Tot. Equiv. Dens. [ppg]","SPP [psi]","Flow in [gpm]","Flow out [%]","Cmt press","Active Pits [bbls]","Gas [%]","Trip tank [bbls]"],"range":["#1a1a1a","#ff0000","#2e5b8c","#1a1a1a","#ff0000","#2e5b8c","#1db350","#7f3fbf","#c9a227","#ff0000","#2e5b8c","#1db350","#a01e4e","#1a1a1a","#ff0000","#2e5b8c"]}}}},
{"data":{"name":"hdr"},"transform":[{"filter":"datum.track==4"}],"mark":{"type":"text","font":"Liberation Sans","fontSize":14,"fontWeight":"bold","align":"center","baseline":"alphabetic","dy":-9},"encoding":{"x":{"datum":0.5,"type":"quantitative","scale":{"domain":[0,1],"range":[746,973],"nice":false,"zero":false},"axis":null},"y":{"field":"ord","type":"quantitative","scale":{"domain":[1,3],"range":[37,135],"nice":false,"zero":false},"axis":null},"text":{"field":"name"},"color":{"field":"name","type":"nominal","legend":null,"scale":{"domain":["Block Position [ft]","ROP [ft/hr]","Running Speed [ft/min]","WOB [klbs]","HKload [klbs]","Torques [ft-klbs]","Rotary speed [rpm]","PWD [ppg]","Tot. Equiv. Dens. [ppg]","SPP [psi]","Flow in [gpm]","Flow out [%]","Cmt press","Active Pits [bbls]","Gas [%]","Trip tank [bbls]"],"range":["#1a1a1a","#ff0000","#2e5b8c","#1a1a1a","#ff0000","#2e5b8c","#1db350","#7f3fbf","#c9a227","#ff0000","#2e5b8c","#1db350","#a01e4e","#1a1a1a","#ff0000","#2e5b8c"]}}}},
{"data":{"name":"hdr"},"transform":[{"filter":"datum.track==4 && datum.name!='Active Pits [bbls]'"}],"mark":{"type":"text","font":"Liberation Sans","fontSize":14,"fontWeight":"bold","align":"left","baseline":"alphabetic","dx":3,"dy":-6},"encoding":{"x":{"datum":0,"type":"quantitative","scale":{"domain":[0,1],"range":[746,973],"nice":false,"zero":false},"axis":null},"y":{"field":"ord","type":"quantitative","scale":{"domain":[1,3],"range":[37,135],"nice":false,"zero":false},"axis":null},"text":{"field":"lo"},"color":{"field":"name","type":"nominal","legend":null,"scale":{"domain":["Block Position [ft]","ROP [ft/hr]","Running Speed [ft/min]","WOB [klbs]","HKload [klbs]","Torques [ft-klbs]","Rotary speed [rpm]","PWD [ppg]","Tot. Equiv. Dens. [ppg]","SPP [psi]","Flow in [gpm]","Flow out [%]","Cmt press","Active Pits [bbls]","Gas [%]","Trip tank [bbls]"],"range":["#1a1a1a","#ff0000","#2e5b8c","#1a1a1a","#ff0000","#2e5b8c","#1db350","#7f3fbf","#c9a227","#ff0000","#2e5b8c","#1db350","#a01e4e","#1a1a1a","#ff0000","#2e5b8c"]}}}},
{"data":{"name":"hdr"},"transform":[{"filter":"datum.track==4 && datum.name=='Active Pits [bbls]'"}],"mark":{"type":"text","font":"Liberation Sans","fontSize":13,"fontWeight":"normal","align":"left","baseline":"alphabetic","dx":3,"dy":-6,"color":"#555555"},"encoding":{"x":{"datum":0,"type":"quantitative","scale":{"domain":[0,1],"range":[746,973],"nice":false,"zero":false},"axis":null},"y":{"field":"ord","type":"quantitative","scale":{"domain":[1,3],"range":[37,135],"nice":false,"zero":false},"axis":null},"text":{"field":"lo"}}},
{"data":{"name":"hdr"},"transform":[{"filter":"datum.track==4 && datum.name!='Active Pits [bbls]'"}],"mark":{"type":"text","font":"Liberation Sans","fontSize":14,"fontWeight":"bold","align":"right","baseline":"alphabetic","dx":-9,"dy":-6},"encoding":{"x":{"datum":1,"type":"quantitative","scale":{"domain":[0,1],"range":[746,973],"nice":false,"zero":false},"axis":null},"y":{"field":"ord","type":"quantitative","scale":{"domain":[1,3],"range":[37,135],"nice":false,"zero":false},"axis":null},"text":{"field":"hi"},"color":{"field":"name","type":"nominal","legend":null,"scale":{"domain":["Block Position [ft]","ROP [ft/hr]","Running Speed [ft/min]","WOB [klbs]","HKload [klbs]","Torques [ft-klbs]","Rotary speed [rpm]","PWD [ppg]","Tot. Equiv. Dens. [ppg]","SPP [psi]","Flow in [gpm]","Flow out [%]","Cmt press","Active Pits [bbls]","Gas [%]","Trip tank [bbls]"],"range":["#1a1a1a","#ff0000","#2e5b8c","#1a1a1a","#ff0000","#2e5b8c","#1db350","#7f3fbf","#c9a227","#ff0000","#2e5b8c","#1db350","#a01e4e","#1a1a1a","#ff0000","#2e5b8c"]}}}},
{"data":{"name":"hdr"},"transform":[{"filter":"datum.track==4 && datum.name=='Active Pits [bbls]'"}],"mark":{"type":"text","font":"Liberation Sans","fontSize":13,"fontWeight":"normal","align":"right","baseline":"alphabetic","dx":-9,"dy":-6,"color":"#555555"},"encoding":{"x":{"datum":1,"type":"quantitative","scale":{"domain":[0,1],"range":[746,973],"nice":false,"zero":false},"axis":null},"y":{"field":"ord","type":"quantitative","scale":{"domain":[1,3],"range":[37,135],"nice":false,"zero":false},"axis":null},"text":{"field":"hi"}}},

{"data":{"name":"edges"},"mark":{"type":"rule","color":"#000000","strokeWidth":2.5},"encoding":{"x":{"field":"e","type":"quantitative","scale":{"domain":[0,1],"range":[0,227],"nice":false,"zero":false},"axis":null},"y":{"datum":0,"type":"quantitative","scale":{"domain":[0,1],"range":[7,525],"nice":false,"zero":false},"axis":null},"y2":{"datum":1}}},
{"data":{"name":"edges"},"mark":{"type":"rule","color":"#000000","strokeWidth":2.5},"encoding":{"x":{"field":"e","type":"quantitative","scale":{"domain":[0,1],"range":[247,474],"nice":false,"zero":false},"axis":null},"y":{"datum":0,"type":"quantitative","scale":{"domain":[0,1],"range":[7,525],"nice":false,"zero":false},"axis":null},"y2":{"datum":1}}},
{"data":{"name":"edges"},"mark":{"type":"rule","color":"#000000","strokeWidth":2.5},"encoding":{"x":{"field":"e","type":"quantitative","scale":{"domain":[0,1],"range":[497,724],"nice":false,"zero":false},"axis":null},"y":{"datum":0,"type":"quantitative","scale":{"domain":[0,1],"range":[7,525],"nice":false,"zero":false},"axis":null},"y2":{"datum":1}}},
{"data":{"name":"edges"},"mark":{"type":"rule","color":"#000000","strokeWidth":2.5},"encoding":{"x":{"field":"e","type":"quantitative","scale":{"domain":[0,1],"range":[746,973],"nice":false,"zero":false},"axis":null},"y":{"datum":0,"type":"quantitative","scale":{"domain":[0,1],"range":[7,525],"nice":false,"zero":false},"axis":null},"y2":{"datum":1}}}
]
}
